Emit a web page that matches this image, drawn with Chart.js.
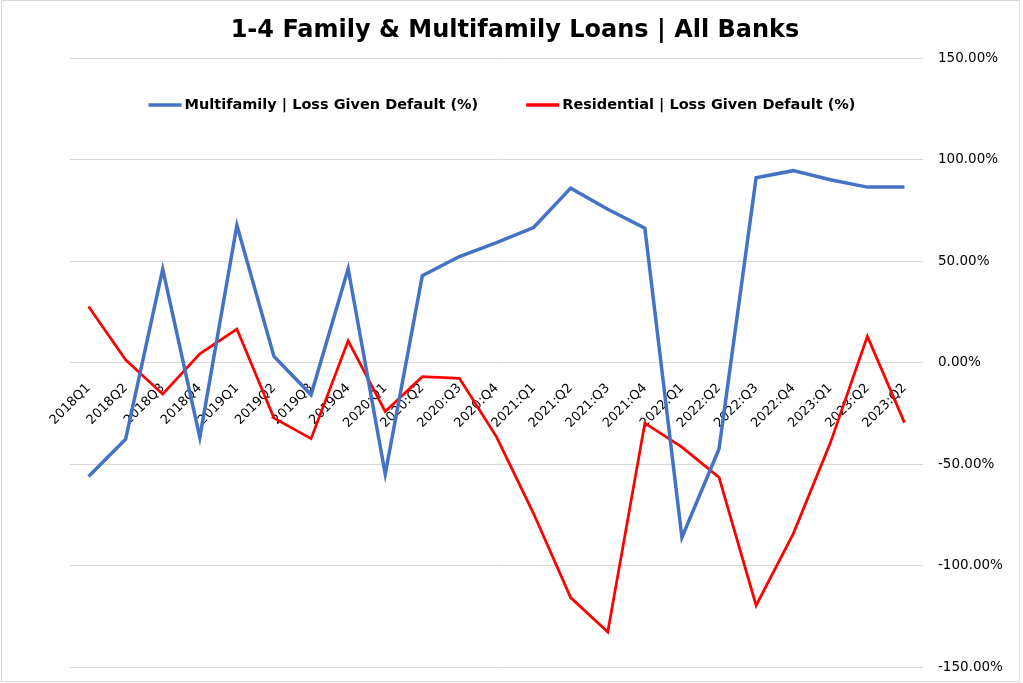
<!DOCTYPE html>
<html>
<head>
<meta charset="utf-8">
<title>1-4 Family & Multifamily Loans | All Banks</title>
<script src="https://cdn.jsdelivr.net/npm/chart.js@4.4.1/dist/chart.umd.min.js"></script>
<style>
  html, body { margin: 0; padding: 0; background: #fff; }
  #wrap { position: relative; width: 1023px; height: 683px; }
  #chart { position: absolute; left: 0; top: 0; }
  #frame {
    position: absolute; left: 1px; top: 0; width: 1017px; height: 680px;
    border: 1px solid #d9d9d9; pointer-events: none;
  }
</style>
</head>
<body>
<div id="wrap">
  <canvas id="chart" width="1023" height="683"></canvas>
  <div id="frame"></div>
</div>
<script>
// Quarters on the x axis (the last label is repeated in the source chart)
const quarters = [
  "2018Q1", "2018Q2", "2018Q3", "2018Q4",
  "2019Q1", "2019Q2", "2019Q3", "2019Q4",
  "2020:Q1", "2020:Q2", "2020:Q3", "2020:Q4",
  "2021:Q1", "2021:Q2", "2021:Q3", "2021:Q4",
  "2022:Q1", "2022:Q2", "2022:Q3", "2022:Q4",
  "2023:Q1", "2023:Q2", "2023:Q2"
];

// Loss given default, in percent
const multifamilyLgd = [
  -56.2, -37.8, 46.0, -36.9, 67.6, 3.0, -15.9, 46.2,
  -55.0, 42.8, 52.2, 59.1, 66.5, 85.9, 75.5, 66.2,
  -86.2, -42.6, 91.0, 94.5, 90.0, 86.4, 86.4
];
const residentialLgd = [
  27.6, 1.3, -15.6, 4.3, 16.5, -27.4, -37.5, 10.7,
  -24.2, -7.0, -7.8, -36.6, -74.4, -115.8, -132.8, -29.9,
  -41.7, -56.6, -119.7, -84.4, -39.7, 12.9, -29.6
];

// y axis ticks
const yMin = -150;
const yMax = 150;
const yStep = 50;

const FONT = "'DejaVu Sans', Verdana, sans-serif";

// legend drawn inside the plot, under the top gridline
const insideLegend = {
  id: "insideLegend",
  afterDraw(chart, args, opts) {
    const ctx = chart.ctx;
    ctx.save();
    ctx.font = opts.font;
    const items = chart.data.datasets.map(function (ds) {
      return { text: ds.label, color: ds.borderColor, w: ctx.measureText(ds.label).width };
    });
    let total = 0;
    items.forEach(function (it) { total += opts.sampleWidth + opts.sampleGap + it.w; });
    total += opts.itemGap * (items.length - 1);
    let x = opts.centerX - total / 2;
    ctx.textBaseline = "middle";
    ctx.textAlign = "left";
    items.forEach(function (it) {
      ctx.strokeStyle = it.color;
      ctx.lineWidth = 3.5;
      ctx.beginPath();
      ctx.moveTo(x, opts.y);
      ctx.lineTo(x + opts.sampleWidth, opts.y);
      ctx.stroke();
      x += opts.sampleWidth + opts.sampleGap;
      ctx.fillStyle = "#000";
      ctx.fillText(it.text, x, opts.y);
      x += it.w + opts.itemGap;
    });
    ctx.restore();
  }
};

new Chart(document.getElementById("chart"), {
  type: "line",
  data: {
    labels: quarters,
    datasets: [
      {
        label: "Multifamily | Loss Given Default (%)",
        data: multifamilyLgd,
        borderColor: "#4472C4",
        backgroundColor: "#4472C4",
        borderWidth: 3.5,
        pointRadius: 0,
        tension: 0,
      },
      {
        label: "Residential | Loss Given Default (%)",
        data: residentialLgd,
        borderColor: "#FF0000",
        backgroundColor: "#FF0000",
        borderWidth: 2.75,
        pointRadius: 0,
        tension: 0,
      },
    ],
  },
  options: {
    responsive: false,
    animation: false,
    devicePixelRatio: 1,
    layout: {
      padding: { left: 7, right: 0, top: 0, bottom: 16 },
    },
    plugins: {
      title: {
        display: true,
        text: "1-4 Family & Multifamily Loans | All Banks",
        color: "#000",
        font: { family: FONT, size: 24, weight: "bold" },
        padding: { top: 16.6, bottom: 12.6 },
      },
      legend: { display: false },
      tooltip: { enabled: false },
      insideLegend: {
        font: "bold 14.5px " + FONT,
        y: 105,
        centerX: 502,
        sampleWidth: 33,
        sampleGap: 3,
        itemGap: 48,
      },
    },
    scales: {
      x: {
        position: { y: 0 },
        offset: true,
        grid: { display: false, drawTicks: false },
        border: { display: false },
        ticks: {
          autoSkip: false,
          minRotation: 45,
          maxRotation: 45,
          padding: 18,
          color: "#000",
          font: { family: FONT, size: 13 },
        },
        afterFit: function (scale) {
          // leave the empty band on the left of the plot
          scale.paddingLeft = 70;
          scale.paddingRight = 0;
        },
      },
      y: {
        position: "right",
        min: yMin,
        max: yMax,
        grid: { color: "#d9d9d9", lineWidth: 1, drawTicks: false },
        border: { display: false },
        ticks: {
          stepSize: yStep,
          padding: 15,
          color: "#000",
          font: { family: FONT, size: 13.5 },
          callback: function (value) {
            return value.toFixed(2) + "%";
          },
        },
        afterFit: function (scale) {
          scale.width = 100;
          scale.paddingTop = 0;
          scale.paddingBottom = 0;
        },
      },
    },
  },
  plugins: [insideLegend],
});
</script>
</body>
</html>
